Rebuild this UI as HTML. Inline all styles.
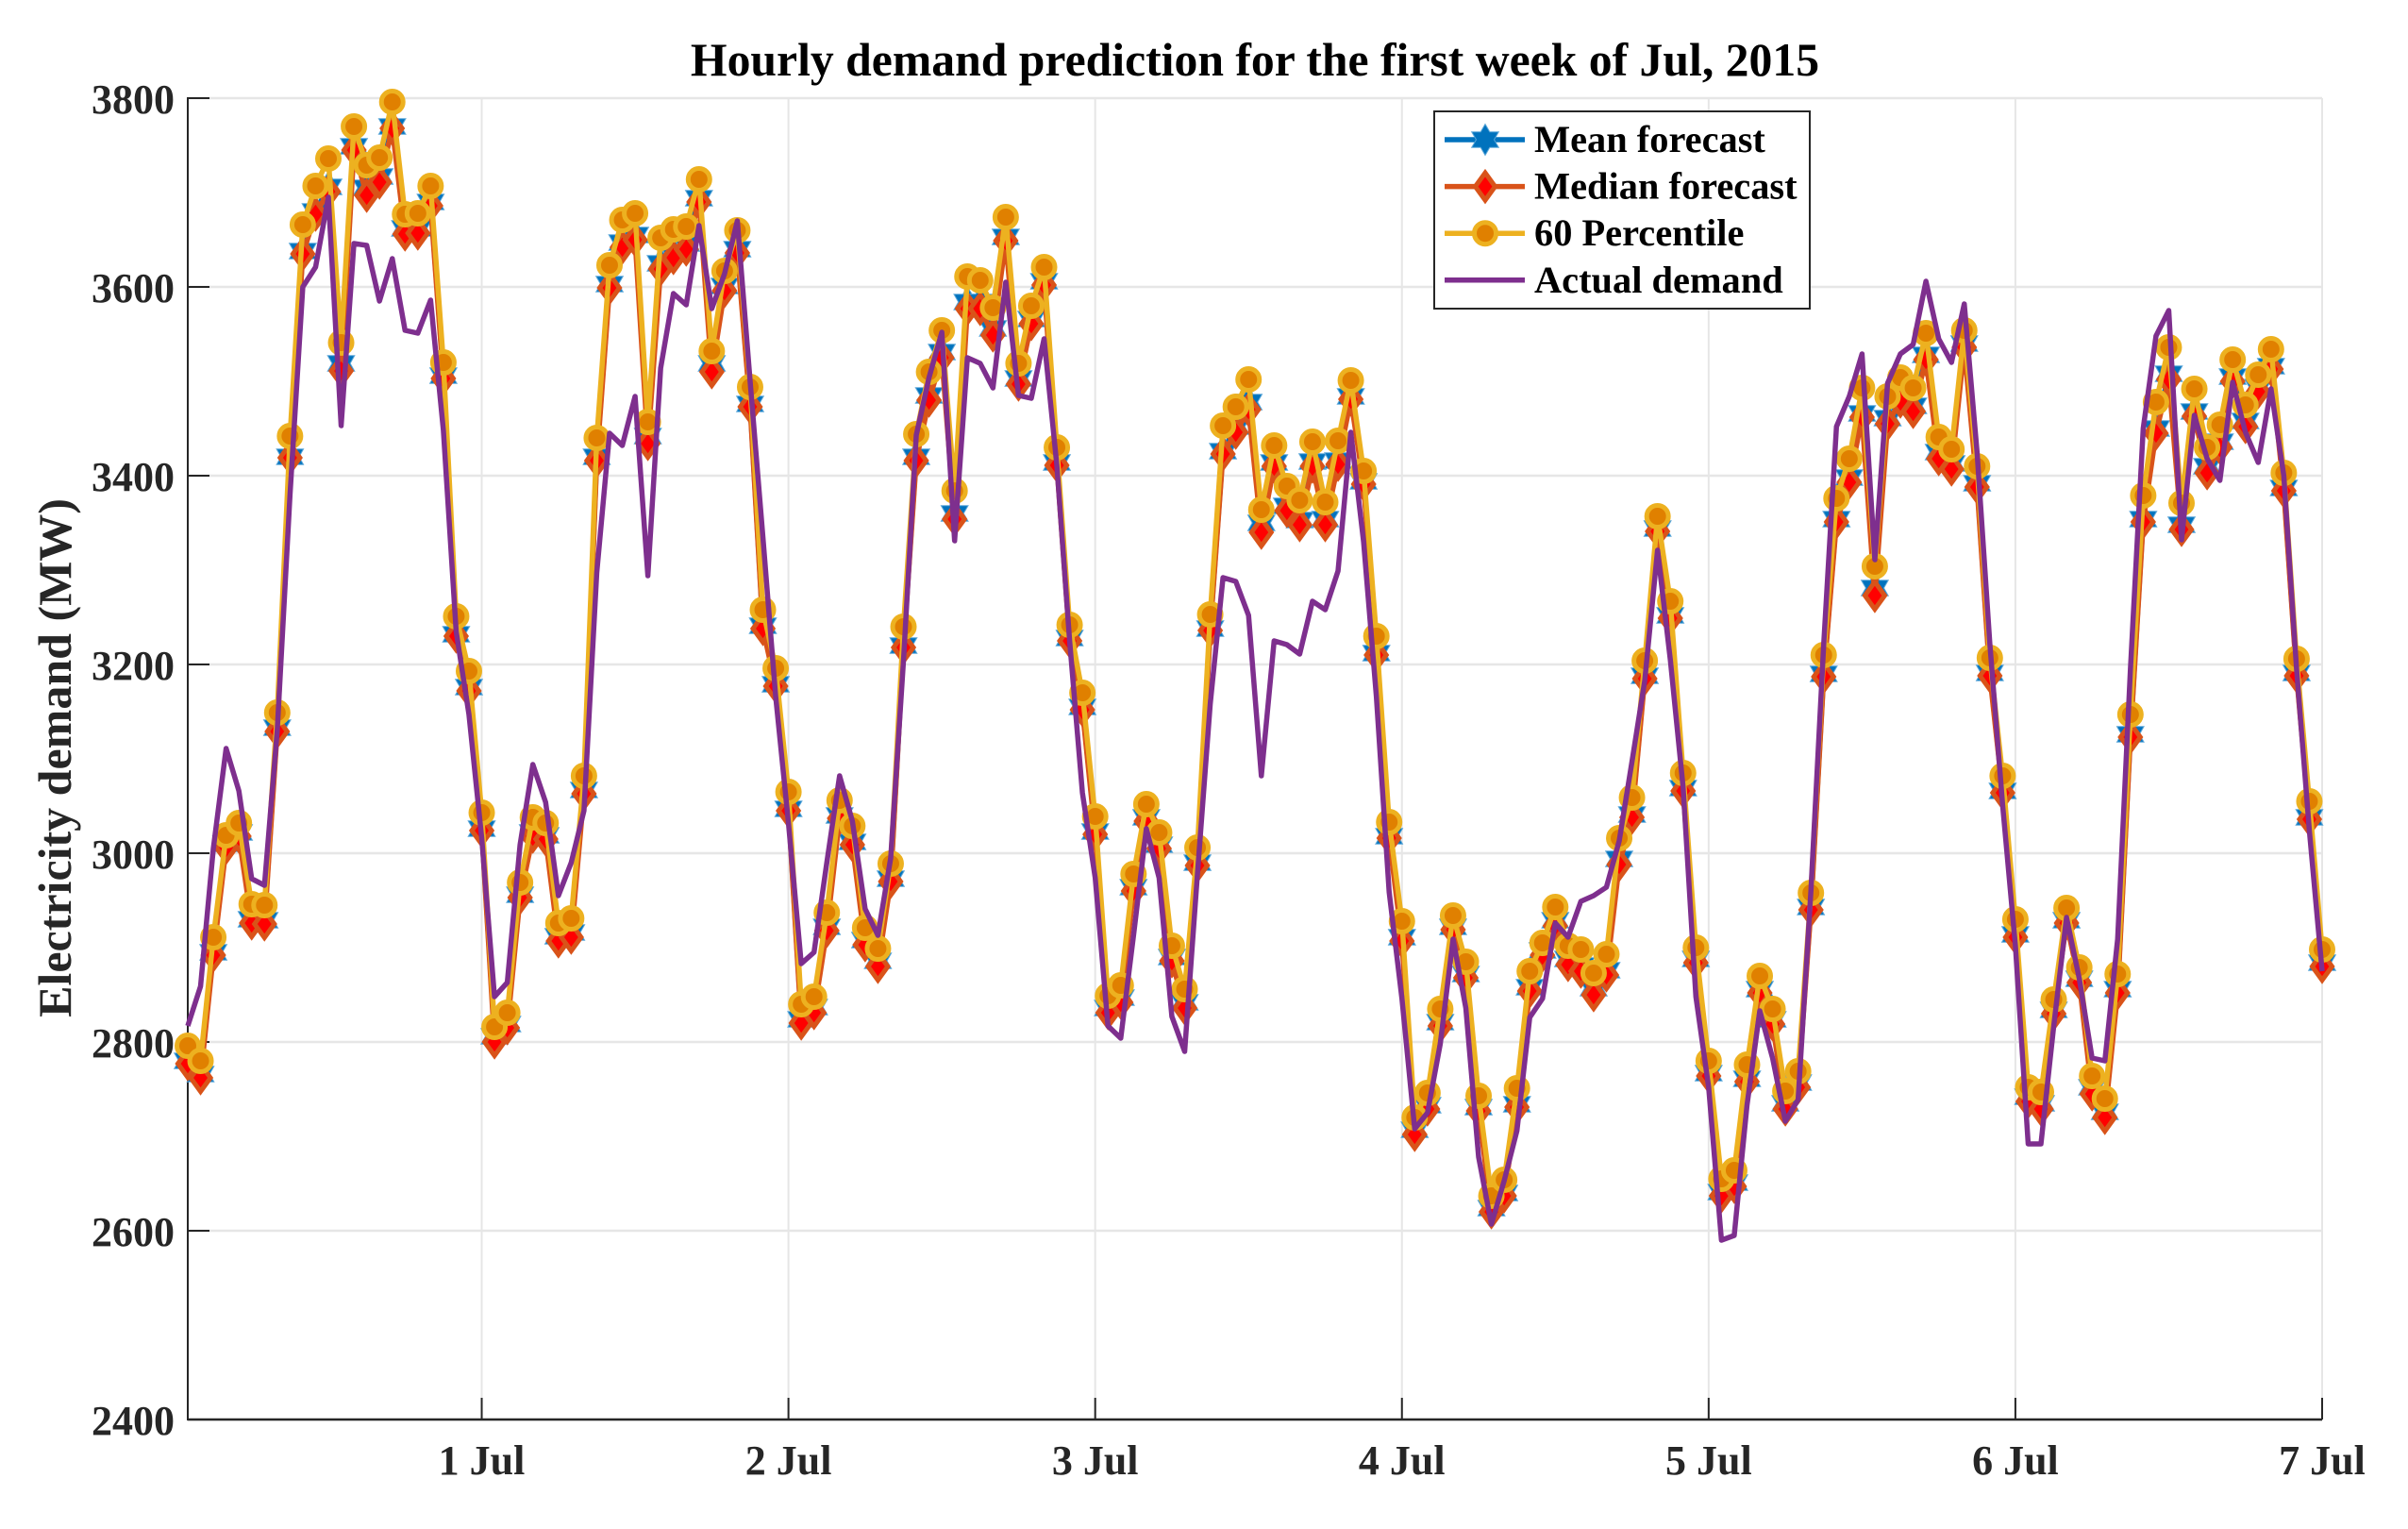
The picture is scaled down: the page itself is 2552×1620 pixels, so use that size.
<!DOCTYPE html>
<html>
<head>
<meta charset="utf-8">
<title>Hourly demand prediction</title>
<style>
html,body{margin:0;padding:0;background:#fff;width:2552px;height:1620px;overflow:hidden}
svg{display:block;font-family:"Liberation Serif",serif;font-weight:bold}
</style>
</head>
<body>
<svg id="chart" width="2552" height="1620" viewBox="0 0 2552 1620" xmlns="http://www.w3.org/2000/svg">
<rect x="0" y="0" width="2552" height="1620" fill="#fff"/>
<g id="grid"></g>
<g id="axes"></g>
<g id="series"></g>
<text x="1330" y="80" text-anchor="middle" font-size="49.7" fill="#000">Hourly demand prediction for the first week of Jul, 2015</text>
<text transform="translate(75,803) rotate(-90)" text-anchor="middle" font-size="50" fill="#262626">Electricity demand (MW)</text>
<g id="legend"></g>
</svg>
<script>
const meanForecast = [2780,2766,2895,3010,3022,2930,2929,3133,3420,3638,3680,3706,3519,3749,3705,3717,3770,3662,3662,3690,3506,3232,3176,3026,2806,2819,2956,3022,3019,2912,2916,3067,3420,3603,3647,3655,3442,3625,3636,3646,3694,3519,3601,3640,3476,3241,3179,3047,2824,2837,2922,3040,3012,2908,2886,2973,3220,3420,3485,3531,3360,3584,3584,3556,3653,3503,3566,3606,3414,3228,3155,3023,2836,2847,2964,3038,3009,2890,2842,2990,3238,3426,3452,3478,3350,3414,3368,3353,3415,3354,3416,3484,3394,3212,3018,2911,2707,2733,2821,2922,2872,2731,2624,2640,2734,2858,2897,2929,2888,2881,2857,2876,2994,3041,3188,3344,3252,3069,2888,2767,2641,2651,2761,2856,2824,2735,2757,2943,3190,3354,3398,3466,3281,3461,3484,3474,3528,3425,3413,3540,3392,3191,3066,2914,2742,2735,2834,2929,2867,2752,2726,2856,3126,3354,3450,3508,3348,3468,3410,3436,3505,3458,3494,3516,3387,3191,3038,2884];
const medianForecast = [2777,2762,2892,3006,3018,2926,2925,3129,3419,3635,3677,3701,3511,3745,3697,3711,3768,3656,3657,3686,3503,3230,3172,3024,2800,2815,2953,3018,3015,2907,2911,3063,3416,3599,3642,3650,3434,3619,3631,3640,3690,3510,3596,3636,3473,3238,3177,3045,2820,2831,2918,3037,3009,2903,2880,2970,3218,3416,3480,3525,3354,3577,3577,3549,3649,3497,3561,3602,3411,3225,3152,3020,2831,2842,2960,3034,3005,2886,2836,2987,3236,3423,3446,3470,3340,3410,3363,3348,3410,3348,3412,3481,3391,3210,3016,2907,2702,2729,2817,2919,2868,2727,2620,2637,2731,2854,2892,2923,2882,2875,2850,2871,2988,3038,3185,3341,3249,3066,2884,2764,2637,2647,2758,2852,2819,2729,2752,2940,3187,3351,3393,3462,3273,3455,3479,3468,3523,3418,3407,3536,3388,3188,3064,2911,2737,2729,2830,2926,2863,2745,2720,2852,3123,3351,3445,3502,3343,3463,3403,3430,3500,3452,3489,3513,3384,3188,3036,2880];
const percentile60 = [2796,2780,2911,3019,3032,2946,2945,3149,3442,3666,3707,3736,3541,3770,3729,3737,3796,3677,3678,3707,3520,3251,3193,3043,2816,2831,2969,3038,3032,2926,2931,3082,3440,3623,3671,3678,3457,3652,3661,3664,3714,3532,3617,3660,3494,3258,3196,3065,2840,2848,2937,3056,3029,2921,2899,2989,3240,3444,3510,3554,3384,3611,3607,3578,3674,3519,3580,3621,3430,3242,3170,3039,2849,2860,2978,3052,3022,2902,2856,3006,3253,3453,3473,3502,3364,3432,3389,3374,3436,3372,3437,3501,3405,3230,3033,2928,2720,2746,2835,2934,2885,2743,2637,2654,2751,2875,2905,2943,2902,2898,2873,2893,3016,3059,3204,3357,3267,3085,2900,2780,2655,2664,2776,2870,2835,2748,2769,2958,3210,3376,3418,3493,3304,3484,3504,3493,3551,3441,3428,3554,3410,3207,3082,2930,2752,2747,2845,2942,2879,2764,2740,2872,3147,3379,3478,3536,3371,3492,3430,3454,3523,3475,3507,3534,3403,3206,3055,2898];
const actualDemand = [2817,2859,3005,3111,3066,2973,2966,3130,3380,3600,3621,3695,3453,3646,3644,3585,3630,3554,3551,3586,3448,3235,3147,3016,2848,2863,3009,3094,3054,2955,2990,3045,3297,3445,3432,3484,3294,3514,3593,3581,3665,3577,3614,3670,3500,3335,3166,3032,2883,2895,2990,3082,3034,2941,2913,2995,3204,3443,3504,3552,3331,3525,3519,3493,3605,3485,3482,3545,3411,3225,3064,2974,2817,2804,2913,3026,2974,2827,2790,2978,3158,3292,3288,3252,3082,3225,3221,3211,3267,3258,3299,3446,3330,3166,2959,2846,2708,2725,2798,2909,2836,2678,2607,2653,2706,2826,2846,2926,2911,2949,2955,2964,3013,3097,3183,3321,3205,3070,2848,2752,2590,2595,2733,2833,2783,2716,2739,2960,3221,3452,3484,3529,3311,3498,3529,3539,3606,3545,3520,3582,3425,3222,3051,2902,2692,2692,2817,2932,2867,2783,2780,2909,3195,3450,3548,3575,3332,3464,3418,3395,3499,3446,3414,3492,3400,3195,3024,2875];
const yTickValues = [2400,2600,2800,3000,3200,3400,3600,3800];
const xTickHours = [23,47,71,95,119,143,167];
const xTickLabels = ['1 Jul','2 Jul','3 Jul','4 Jul','5 Jul','6 Jul','7 Jul'];
const legendLabels = ['Mean forecast','Median forecast','60 Percentile','Actual demand'];

const SVGNS = 'http://www.w3.org/2000/svg';
const AXIS_LEFT = 199, AXIS_RIGHT = 2461, AXIS_TOP = 104, AXIS_BOTTOM = 1504;
const Y_MIN = 2400, Y_MAX = 3800, HOUR_MAX = 167;
const INK = '#262626', GRID = '#e6e6e6';
const BLUE = '#0072BD', ORANGE = '#D95319', YELLOW = '#EDB120', PURPLE = '#7E2F8E';

function xScale(h){ return AXIS_LEFT + (h / HOUR_MAX) * (AXIS_RIGHT - AXIS_LEFT); }
function yScale(v){ return AXIS_BOTTOM - (v - Y_MIN) / (Y_MAX - Y_MIN) * (AXIS_BOTTOM - AXIS_TOP); }
function make(tag, parent){ const el = document.createElementNS(SVGNS, tag); parent.appendChild(el); return el; }
function styleIt(el, attrs){ for (const k in attrs) el.setAttribute(k, attrs[k]); }

function hexagramPoints(cx, cy){
  const R = 16.5, r = R / Math.sqrt(3), pts = [];
  for (let k = 0; k < 12; k++){
    const a = -Math.PI / 2 + k * Math.PI / 6, q = k % 2 === 0 ? R : r;
    pts.push((cx + q * Math.cos(a)).toFixed(1) + ',' + (cy + q * Math.sin(a)).toFixed(1));
  }
  return pts.join(' ');
}
function diamondPoints(cx, cy){
  const w = 10.5, h = 14.5;
  return [cx + ',' + (cy - h), (cx + w) + ',' + cy, cx + ',' + (cy + h), (cx - w) + ',' + cy].join(' ');
}
function drawStar(parent, cx, cy){
  const el = make('polygon', parent);
  
  
  styleIt(el, {points: hexagramPoints(cx, cy), fill: BLUE, stroke: '#5aa6d8', 'stroke-width': 1});
}
function drawDiamond(parent, cx, cy){
  const el = make('polygon', parent);
  
  
  styleIt(el, {points: diamondPoints(cx, cy), fill: '#ff0000', stroke: ORANGE, 'stroke-width': 5, 'stroke-miterlimit': 10});
}
function drawCircle(parent, cx, cy){
  const el = make('circle', parent);
  
  
  styleIt(el, {cx: cx, cy: cy, r: 11.5, fill: '#E08000', stroke: YELLOW, 'stroke-width': 5});
}
function drawLine(parent, values, color, name){
  const el = make('polyline', parent);
  
  
  const pts = values.map(function(v, i){ return xScale(i).toFixed(2) + ',' + yScale(v).toFixed(2); }).join(' ');
  styleIt(el, {points: pts, fill: 'none', stroke: color, 'stroke-width': 5.5, 'stroke-linejoin': 'round'});
}

const gridG = document.getElementById('grid');
yTickValues.forEach(function(v){
  const gl = make('line', gridG);
  
  
  styleIt(gl, {x1: AXIS_LEFT, x2: AXIS_RIGHT, y1: yScale(v), y2: yScale(v), stroke: GRID, 'stroke-width': 2.5});
});
xTickHours.forEach(function(h){
  const gl = make('line', gridG);
  
  
  styleIt(gl, {x1: xScale(h), x2: xScale(h), y1: AXIS_TOP, y2: AXIS_BOTTOM, stroke: GRID, 'stroke-width': 2});
});

const axesG = document.getElementById('axes');
const yAxisLine = make('line', axesG);


styleIt(yAxisLine, {x1: AXIS_LEFT, x2: AXIS_LEFT, y1: AXIS_TOP - 1, y2: AXIS_BOTTOM + 1, stroke: INK, 'stroke-width': 2});
const xAxisLine = make('line', axesG);


styleIt(xAxisLine, {x1: AXIS_LEFT, x2: AXIS_RIGHT, y1: AXIS_BOTTOM, y2: AXIS_BOTTOM, stroke: INK, 'stroke-width': 2.5});
yTickValues.forEach(function(v){
  const t = make('line', axesG);
  
  
  styleIt(t, {x1: AXIS_LEFT, x2: AXIS_LEFT + 23, y1: yScale(v), y2: yScale(v), stroke: INK, 'stroke-width': 2});
  const lab = make('text', axesG);
  
  
  styleIt(lab, {x: 185, y: yScale(v) + 16, 'text-anchor': 'end', 'font-size': 44, fill: INK});
  lab.textContent = String(v);
});
xTickHours.forEach(function(h, i){
  const t = make('line', axesG);
  
  
  styleIt(t, {x1: xScale(h), x2: xScale(h), y1: AXIS_BOTTOM, y2: AXIS_BOTTOM - 23, stroke: INK, 'stroke-width': 2});
  const lab = make('text', axesG);
  
  
  styleIt(lab, {x: xScale(h), y: 1562, 'text-anchor': 'middle', 'font-size': 44, fill: INK});
  lab.textContent = xTickLabels[i];
});

const seriesG = document.getElementById('series');
drawLine(seriesG, meanForecast, BLUE, 'mean-forecast-line');
meanForecast.forEach(function(v, i){ drawStar(seriesG, xScale(i), yScale(v)); });
drawLine(seriesG, medianForecast, ORANGE, 'median-forecast-line');
medianForecast.forEach(function(v, i){ drawDiamond(seriesG, xScale(i), yScale(v)); });
drawLine(seriesG, percentile60, YELLOW, 'percentile-60-line');
percentile60.forEach(function(v, i){ drawCircle(seriesG, xScale(i), yScale(v)); });
drawLine(seriesG, actualDemand, PURPLE, 'actual-demand-line');

const legendG = document.getElementById('legend');
const legendBox = make('rect', legendG);


styleIt(legendBox, {x: 1520, y: 118, width: 398, height: 209, fill: '#fff', stroke: INK, 'stroke-width': 2});
const legendColors = [BLUE, ORANGE, YELLOW, PURPLE];
const legendDraw = [drawStar, drawDiamond, drawCircle, null];
legendLabels.forEach(function(label, i){
  const rowY = 148 + i * 49.6;
  const ln = make('line', legendG);
  
  
  styleIt(ln, {x1: 1531, x2: 1616, y1: rowY, y2: rowY, stroke: legendColors[i], 'stroke-width': 5.5});
  if (legendDraw[i]) legendDraw[i](legendG, 1574, rowY);
  const tx = make('text', legendG);
  
  
  styleIt(tx, {x: 1626, y: rowY + 13, 'font-size': 40.4, fill: '#000'});
  tx.textContent = label;
});
</script>
</body>
</html>
